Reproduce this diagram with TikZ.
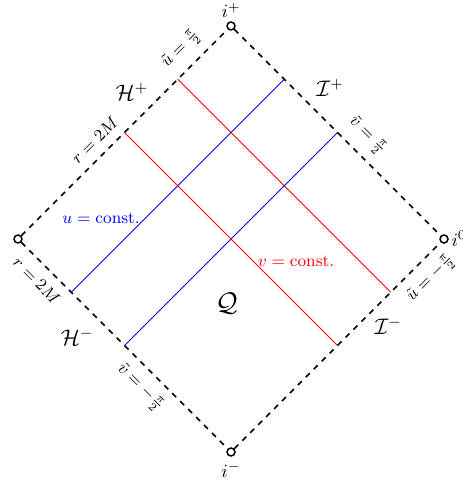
\documentclass[tikz,border=0pt]{standalone}
\usepackage{amsmath,amssymb}
\usetikzlibrary{positioning,calc}

\begin{document}
\begin{tikzpicture}[
    boundary/.style={thick, dashed},
    corner/.style={circle, draw=black, fill=white, thick, inner sep=0pt, minimum size=0.15cm},
    corner label/.style={inner sep=1pt},
    ray u/.style={blue},
    ray v/.style={red},
    edge label/.style={sloped, font=\small, inner sep=2pt},
    scri/.style={font=\large}
]
    \useasboundingbox (-4.338,-4.582) rectangle (4.338,4.488);

    % Corners
    \node[corner] (ip) at (0,4) {};
    \node[corner] (im) at (0,-4) {};
    \node[corner] (iz) at (4,0) {};
    \node[corner] (il) at (-4,0) {};
    \node[corner label, above=0.02cm of ip] (ipl) {$i^+$};
    \node[corner label, below=0.06cm of im] (iml) {$i^-$};
    \node[corner label, right=0.01cm of iz] (izl) {$i^0$};

    % Boundary
    \draw[boundary] (il) -- node[edge label, pos=0.41, above=3pt] {$r=2M$}
        node[edge label, pos=0.84, above=3pt] {$\tilde{u}=\frac{\pi}{2}$} (ip);
    \draw[boundary] (ip) -- node[edge label, pos=0.58, above=3pt] {$\tilde{v}=\frac{\pi}{2}$} (iz);
    \draw[boundary] (il) -- node[edge label, pos=0.13, below=3pt] {$r=2M$}
        node[edge label, pos=0.64, below=3pt] {$\tilde{v}=-\frac{\pi}{2}$} (im);
    \draw[boundary] (im) -- node[edge label, pos=0.89, below=3pt] {$\tilde{u}=-\frac{\pi}{2}$} (iz);

    % Null rays
    \foreach \k in {1,2} {
        \coordinate (us\k) at (-4+\k,-\k);
        \coordinate (ue\k) at (\k,4-\k);
        \draw[ray u] (us\k) -- (ue\k);
        \coordinate (vs\k) at (-\k,4-\k);
        \coordinate (ve\k) at (4-\k,-\k);
        \draw[ray v] (vs\k) -- (ve\k);
    }
    \node[blue, font=\small] (ulab) at (-2.44,0.39) {$u=\text{const.}$};
    \node[red, font=\small] (vlab) at (1.22,-0.43) {$v=\text{const.}$};

    % Horizons and infinities
    \node[scri] (hp) at (-1.86,2.76) {$\mathcal{H}^+$};
    \node[scri] (sp) at (1.86,2.84) {$\mathcal{I}^+$};
    \node[scri] (hm) at (-2.89,-1.84) {$\mathcal{H}^-$};
    \node[scri] (sm) at (2.95,-1.63) {$\mathcal{I}^-$};
    \node[font=\Large] (q) at (-0.08,-1.22) {$\mathcal{Q}$};
\end{tikzpicture}
\end{document}
